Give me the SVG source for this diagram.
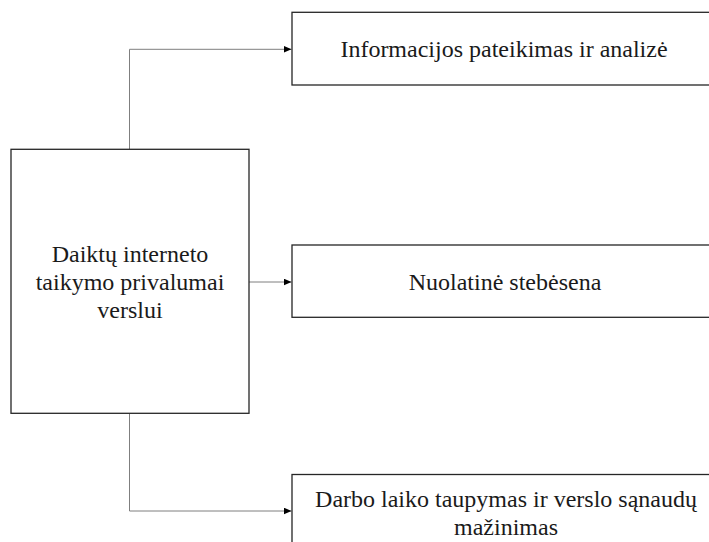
<svg xmlns="http://www.w3.org/2000/svg" width="709" height="542" viewBox="0 0 709 542">
<style>
.box{fill:#fff;stroke:#262626;stroke-width:1.3}
.conn{fill:none;stroke:#7f7f7f;stroke-width:1}
text{font-family:"Liberation Serif","Times New Roman",serif;font-size:24px;fill:#1a1a1a;text-anchor:middle}
</style>
<defs>
<marker id="arr" markerWidth="8" markerHeight="7" refX="8" refY="3.5" orient="auto" markerUnits="userSpaceOnUse">
<path d="M0,0 L8,3.5 L0,7 Z" fill="#000"/>
</marker>
</defs>
<rect width="709" height="542" fill="#fff"/>
<g id="connectors">
<path class="conn" d="M129.5,149.3 V49.3 H291.5" marker-end="url(#arr)"/>
<path class="conn" d="M249,282 H291.5" marker-end="url(#arr)"/>
<path class="conn" d="M129.5,413.3 V511 H291.5" marker-end="url(#arr)"/>
</g>
<g id="main">
<rect class="box" x="11" y="149.3" width="238" height="264"/>
<text x="130" y="262">Daiktų interneto</text>
<text x="130" y="290">taikymo privalumai</text>
<text x="130" y="318">verslui</text>
</g>
<g id="info">
<rect class="box" x="292" y="12.3" width="430" height="72.7"/>
<text x="504" y="56.5">Informacijos pateikimas ir analizė</text>
</g>
<g id="monitoring">
<rect class="box" x="292" y="245" width="430" height="72.3"/>
<text x="505" y="290">Nuolatinė stebėsena</text>
</g>
<g id="savings">
<rect class="box" x="292" y="474.5" width="430" height="80"/>
<text x="506" y="507">Darbo laiko taupymas ir verslo sąnaudų</text>
<text x="506" y="535">mažinimas</text>
</g>
</svg>
